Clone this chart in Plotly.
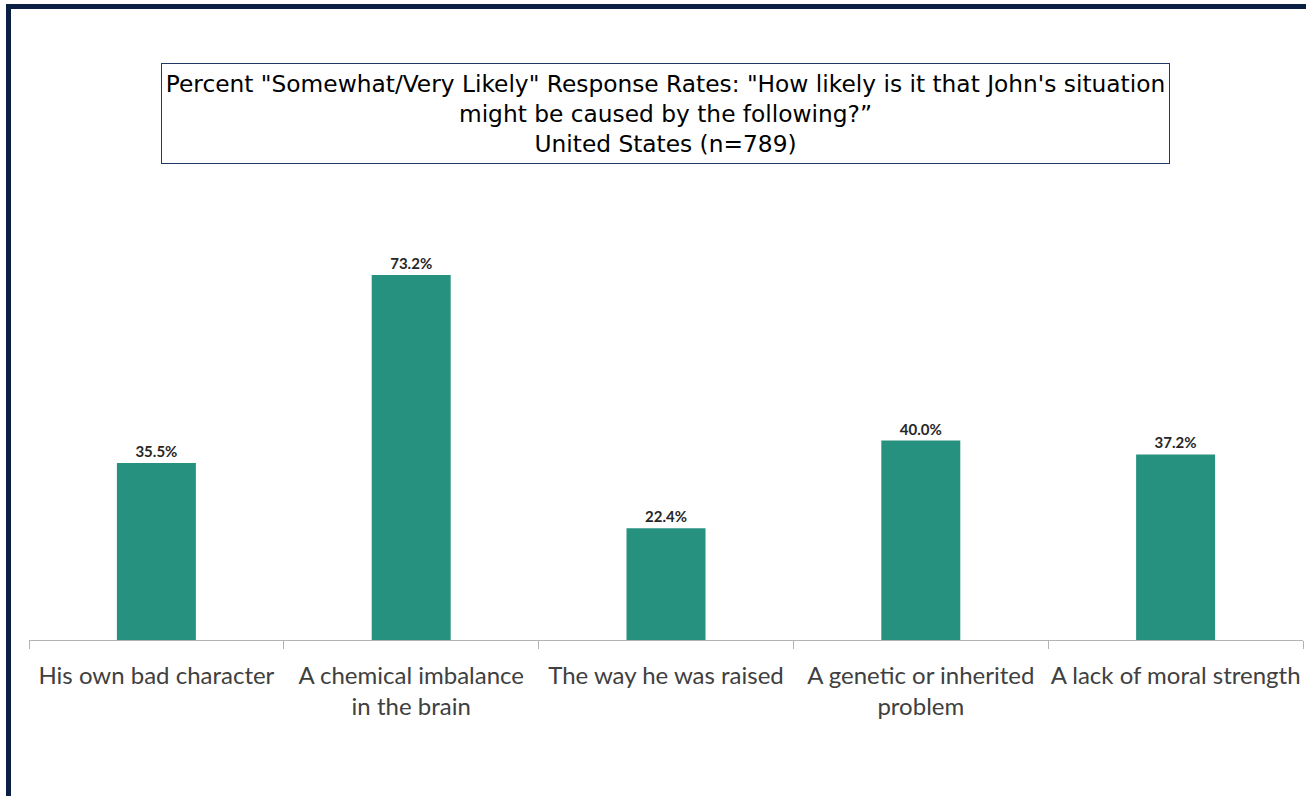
import plotly.graph_objects as go

categories = [
    "His own bad character",
    "A chemical imbalance<br>in the brain",
    "The way he was raised",
    "A genetic or inherited<br>problem",
    "A lack of moral strength",
]
values = [35.5, 73.2, 22.4, 40.0, 37.2]
value_labels = [f"{v:.1f}%" for v in values]

title_text = ('Percent "Somewhat/Very Likely" Response Rates: "How likely is it that John\'s situation'
              '<br>might be caused by the following?\u201d<br>United States (n=789)')

W, H = 1306, 796
L, R, T, B = 29, 3, 241, 156
pw = W - L - R
ph = H - T - B

def px_x(px):
    return (px - L) / pw

def px_y(py):
    return (H - B - py) / ph

fig = go.Figure()
fig.add_trace(go.Bar(
    x=categories,
    y=values,
    text=value_labels,
    textposition="outside",
    textfont=dict(family="Lato", size=15, color="#262626", weight="bold"),
    marker=dict(color="#27917f", line=dict(width=0)),
    width=0.31,
    cliponaxis=False,
    hoverinfo="skip",
))

fig.update_layout(
    width=W, height=H,
    margin=dict(l=L, r=R, t=T, b=B, autoexpand=False),
    paper_bgcolor="white",
    plot_bgcolor="white",
    showlegend=False,
    xaxis=dict(
        type="category",
        showline=True, linecolor="#b3b3b3", linewidth=1,
        ticks="outside", tickson="boundaries", ticklen=8, tickcolor="#b3b3b3",
        tickfont=dict(family="Lato", size=24, color="#404040"),
        tickangle=0,
        ticklabelstandoff=14,
        showgrid=False,
        fixedrange=True,
    ),
    yaxis=dict(
        range=[0, 80], visible=False, showgrid=False, fixedrange=True,
    ),
    shapes=[
        dict(type="rect", xref="paper", yref="paper",
             x0=px_x(8.5), x1=px_x(1330), y0=px_y(6.5), y1=px_y(830),
             line=dict(color="#0b1f43", width=5), layer="below"),
    ],
    annotations=[
        dict(
            text=title_text, xref="paper", yref="paper",
            x=px_x((161 + 1170) / 2), y=px_y((63 + 164) / 2),
            xanchor="center", yanchor="middle",
            showarrow=False,
            width=1005, height=97, align="center", valign="middle",
            bordercolor="#1f3864", borderwidth=1, borderpad=1,
            font=dict(family="DejaVu Sans", size=23.3, color="#000000"),
        )
    ],
)

fig.write_html("out.html")
